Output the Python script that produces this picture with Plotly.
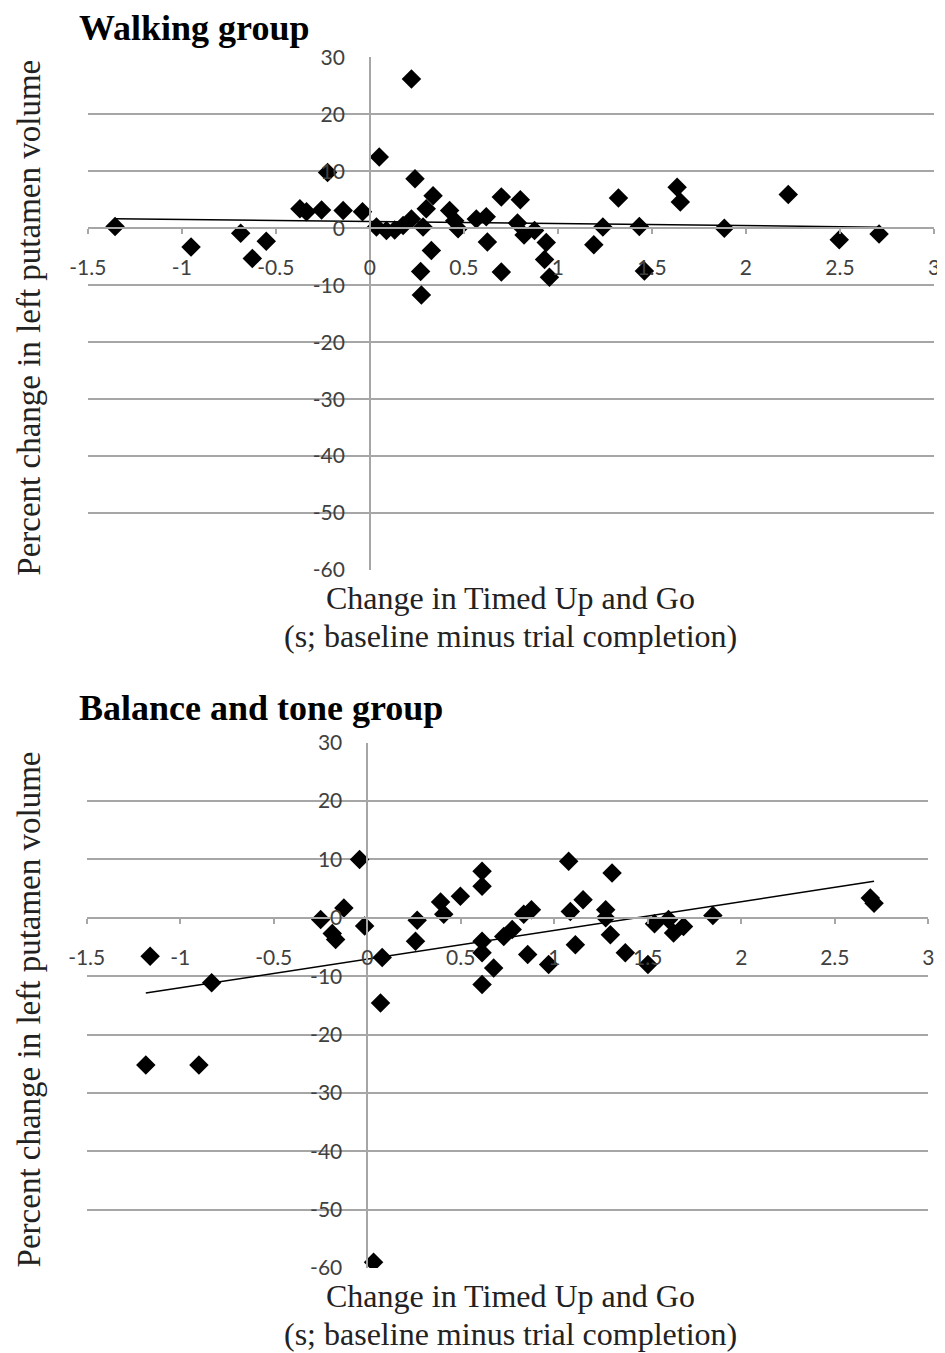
import numpy as np
import plotly.graph_objects as go

# ---------------- data ----------------
walk_x = [-1.355, -0.951, -0.687, -0.625, -0.551, -0.372, -0.337, -0.257, -0.225, -0.142,
          -0.039, 0.050, 0.035, 0.088, 0.132, 0.177, 0.221, 0.221, 0.240, 0.283,
          0.270, 0.274, 0.300, 0.336, 0.327, 0.424, 0.451, 0.469, 0.566, 0.619,
          0.625, 0.699, 0.699, 0.800, 0.785, 0.820, 0.876, 0.938, 0.929, 0.955,
          1.191, 1.239, 1.322, 1.433, 1.460, 1.634, 1.651, 1.885, 2.225, 2.496, 2.708]
walk_y = [0.3, -3.3, -0.9, -5.3, -2.3, 3.4, 2.9, 3.2, 9.8, 3.1,
          2.9, 12.5, 0.2, -0.4, -0.3, 0.5, 1.6, 26.2, 8.7, 0.2,
          -7.6, -11.7, 3.4, 5.7, -3.9, 3.1, 1.3, -0.1, 1.6, 2.0,
          -2.4, 5.5, -7.7, 5.0, 0.9, -1.2, -0.4, -2.5, -5.5, -8.6,
          -2.9, 0.2, 5.3, 0.3, -7.5, 7.2, 4.6, 0.0, 5.9, -2.0, -1.0]

bal_x = [-1.184, -1.161, -0.900, -0.832, -0.249, -0.187, -0.169, -0.125, -0.041, -0.014,
         0.034, 0.071, 0.080, 0.258, 0.267, 0.392, 0.409, 0.498, 0.614, 0.614,
         0.614, 0.614, 0.614, 0.676, 0.730, 0.775, 0.837, 0.858, 0.878, 0.970,
         1.077, 1.086, 1.113, 1.154, 1.275, 1.275, 1.300, 1.309, 1.380, 1.501,
         1.536, 1.611, 1.638, 1.691, 1.848, 2.690, 2.710]
bal_y = [-25.2, -6.6, -25.2, -11.1, -0.3, -2.7, -3.7, 1.7, 10.0, -1.4,
         -59.0, -14.6, -6.8, -4.0, -0.4, 2.7, 0.6, 3.7, 8.0, 5.4,
         -4.0, -6.0, -11.4, -8.6, -3.2, -2.0, 0.6, -6.3, 1.4, -8.0,
         9.7, 1.1, -4.6, 3.1, 1.4, 0.0, -2.9, 7.7, -6.0, -8.0,
         -1.0, -0.3, -2.6, -1.5, 0.4, 3.4, 2.5]

x_range = [-1.5, 3]
y_range = [-60, 30]
x_ticks = [-1.5, -1, -0.5, 0, 0.5, 1, 1.5, 2, 2.5, 3]
x_tick_text = ["-1.5", "-1", "-0.5", "0", "0.5", "1", "1.5", "2", "2.5", "3"]
y_ticks = [-60, -50, -40, -30, -20, -10, 0, 10, 20, 30]
y_tick_text = ["-60", "-50", "-40", "-30", "-20", "-10", "0", "10", "20", "30"]

titles = ["Walking group", "Balance and tone group"]
y_title = "Percent change in left putamen volume"
x_title_1 = "Change in Timed Up and Go"
x_title_2 = "(s; baseline minus trial completion)"

# ---------------- layout geometry ----------------
# the page body has an 8px margin; work in page pixels and subtract it
OFF = 8
PAGE_W, PAGE_H = 945, 1353
W, H = PAGE_W - OFF, PAGE_H - OFF
panels = [
    dict(xpx=(87.8, 934.0), ypx=(57.3, 570.1)),
    dict(xpx=(86.7, 928.3), ypx=(742.7, 1268.1)),
]


def px_x(v):
    return (v - OFF) / W


def px_y(v):
    return 1 - (v - OFF) / H


GRID = "#a6a6a6"
TICKC = "#404040"
SERIF = "Liberation Serif, Times New Roman, serif"
SANS = "Lato, Carlito, Calibri, sans-serif"

fig = go.Figure()
layout = dict(width=W, height=H, autosize=False,
              margin=dict(l=0, r=0, t=0, b=0, pad=0, autoexpand=False),
              paper_bgcolor="white", plot_bgcolor="white", showlegend=False)

annotations = []
for i, (xs, ys) in enumerate([(walk_x, walk_y), (bal_x, bal_y)]):
    p = panels[i]
    xd = [px_x(p["xpx"][0]), px_x(p["xpx"][1])]
    yd = [px_y(p["ypx"][1]), px_y(p["ypx"][0])]
    sfx = "" if i == 0 else str(i + 1)
    xa, ya = "x" + sfx, "y" + sfx

    # position of the crossing axes (x=0 and y=0)
    ypos = xd[0] + (0 - x_range[0]) / (x_range[1] - x_range[0]) * (xd[1] - xd[0])
    xpos = yd[0] + (0 - y_range[0]) / (y_range[1] - y_range[0]) * (yd[1] - yd[0])

    layout["xaxis" + sfx] = dict(
        domain=xd, range=x_range, anchor="free", position=xpos, automargin=False,
        tickvals=x_ticks, ticktext=x_tick_text, showgrid=False, zeroline=False,
        showline=True, linecolor=GRID, linewidth=1.5,
        ticks="outside", ticklen=5, tickcolor=GRID, tickwidth=1.5,
        ticklabelstandoff=16,
        tickfont=dict(family=SANS, size=21, color=TICKC), fixedrange=True)
    layout["yaxis" + sfx] = dict(
        domain=yd, range=y_range, anchor="free", position=ypos, automargin=False,
        tickvals=y_ticks, ticktext=y_tick_text, showgrid=True, gridcolor=GRID,
        gridwidth=1.5, zeroline=False, showline=True, linecolor=GRID, linewidth=1.5,
        ticks="", ticklabelstandoff=20,
        tickfont=dict(family=SANS, size=21, color=TICKC), fixedrange=True)

    # linear trend line fitted to the data (Excel-style)
    slope, icpt = np.polyfit(xs, ys, 1)
    tx = np.array([min(xs), max(xs)])
    fig.add_trace(go.Scatter(x=tx, y=slope * tx + icpt, mode="lines",
                             line=dict(color="black", width=1.5),
                             xaxis=xa, yaxis=ya, hoverinfo="skip"))
    fig.add_trace(go.Scatter(x=xs, y=ys, mode="markers",
                             marker=dict(symbol="diamond", size=15, color="black",
                                         line=dict(width=0)),
                             xaxis=xa, yaxis=ya))

    ymid_px = (p["ypx"][0] + p["ypx"][1]) / 2
    top = p["ypx"][0]
    bot = p["ypx"][1]
    title_y = 28 if i == 0 else top - 35
    annotations += [
        dict(text="<b>%s</b>" % titles[i], x=px_x(77), y=px_y(title_y),
             xref="paper", yref="paper", xanchor="left", yanchor="middle",
             showarrow=False, font=dict(family=SERIF, size=36, color="black")),
        dict(text=y_title, x=px_x(29), y=px_y(ymid_px + 4), textangle=-90,
             xref="paper", yref="paper", xanchor="center", yanchor="middle",
             showarrow=False, font=dict(family=SERIF, size=33, color="#222222")),
        dict(text=x_title_1, x=px_x(510), y=px_y(bot + 28),
             xref="paper", yref="paper", xanchor="center", yanchor="middle",
             showarrow=False, font=dict(family=SERIF, size=32, color="#222222")),
        dict(text=x_title_2, x=px_x(510), y=px_y(bot + 66),
             xref="paper", yref="paper", xanchor="center", yanchor="middle",
             showarrow=False, font=dict(family=SERIF, size=32, color="#222222")),
    ]

layout["annotations"] = annotations
fig.update_layout(**layout)
fig.write_html("out.html", config={"responsive": False})
